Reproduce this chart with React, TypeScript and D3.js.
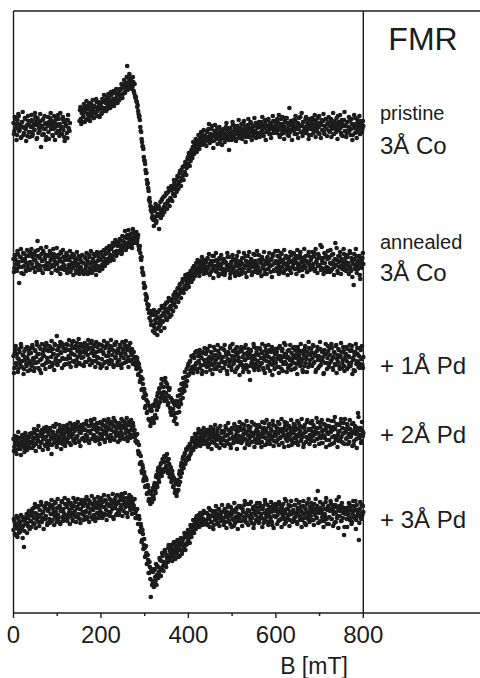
import React from "react";
import * as d3 from "d3";

// Field sweep (mT): even samples 0,2,...,800 and odd samples 1,3,...,799
const fieldEven = d3.range(0, 801, 2);
const fieldOdd = d3.range(1, 800, 2);

const majorTicks = [0, 200, 400, 600, 800];
const minorTicks = [100, 300, 500, 700];

// vertical offsets of each spectrum (arb. units)
const offsets = [485, 348, 253, 178, 98];

const N = null;
// dP/dB signal (arb. units) at even fields
const pristineEven = [
  5,-3,9,0,-7,4,12,-2,3,-9,6,1,-5,10,-1,2,-8,7,3,-4,
  1,8,-6,4,-2,11,3,-10,6,0,-3,7,2,-7,9,-1,4,-12,5,2,
  -4,6,10,-1,3,-8,5,0,8,-5,2,13,-3,4,-6,1,9,-2,-9,6,
  3,-5,8,0,-3,N,N,N,N,N,N,N,N,N,N,N,18,9,15,6,
  12,20,16,8,22,14,19,11,17,24,13,18,10,21,15,26,17,12,23,19,
  22,15,26,19,28,20,17,27,23,30,21,26,33,24,29,22,35,27,31,25,
  35,28,38,31,40,34,42,36,45,39,62,40,49,42,50,44,41,46,35,32,
  31,26,23,14,12,1,-4,-14,-19,-29,-33,-42,-45,-56,-60,-72,-74,-82,-84,-88,
  -92,-80,-89,-95,-81,-88,-78,-86,-74,-84,-71,-82,-79,-68,-77,-66,-75,-64,-72,-62,
  -71,-62,-59,-66,-55,-61,-52,-60,-49,-56,-45,-53,-42,-49,-47,-38,-44,-35,-40,-31,
  -36,-27,-31,-24,-28,-19,-25,-17,-22,-15,-20,-12,-18,-8,-15,-11,-6,-14,-9,-13,
  -12,-4,-9,-1,-14,-6,-10,2,-8,-13,-3,-7,-11,0,-5,-9,-15,-2,-6,-10,
  -3,-10,-6,1,-8,-2,-12,-5,0,-9,-4,3,-7,-1,-11,-3,2,-6,-8,-2,
  0,-7,-3,4,-5,1,-9,-2,3,-6,0,6,-4,-1,-8,2,-3,5,-5,0,
  2,-5,1,6,-3,3,-8,0,5,-4,2,8,-2,1,-6,4,-1,7,-3,1,
  3,-4,6,0,-7,2,9,-2,4,-5,1,10,-3,5,-1,-8,3,7,-2,0,
  4,-2,8,1,-6,5,-1,3,11,-4,2,6,-3,0,9,-5,4,1,-7,3,
  -1,6,2,-5,8,0,4,-3,10,1,-6,5,3,-2,7,-4,2,9,-1,4,
  5,-3,2,9,-1,4,-6,7,1,-4,3,12,-2,6,0,-7,4,2,8,-3,
  2,-5,6,1,-3,8,-1,4,-7,3,0,10,-4,5,-2,2,-6,7,1,-1,
  2,
];
const pristineOdd = [
  -6,11,4,-12,8,14,-3,1,-10,6,16,-7,0,9,-13,3,12,-4,-9,7,
  13,-8,2,-2,15,7,-11,10,-5,4,14,-19,1,8,-6,12,-1,-9,5,11,
  -11,3,15,7,-7,-1,12,-12,4,10,-3,9,-8,15,0,-6,11,6,-13,2,
  8,-10,13,-2,5,N,N,N,N,N,N,N,N,N,N,7,21,4,19,11,
  24,6,18,27,9,13,25,7,21,14,28,10,22,16,29,12,20,26,11,24,
  14,29,20,33,17,25,31,19,34,24,20,36,27,22,37,29,25,39,28,34,
  28,39,33,44,30,41,48,35,43,51,38,46,54,41,48,39,51,37,44,30,
  27,21,17,11,8,-3,-11,-18,-21,-32,-36,-45,-52,-55,-63,-70,-78,-79,-90,-83,
  -98,-83,-76,-93,-86,-79,-101,-81,-90,-72,-87,-69,-84,-76,-65,-81,-73,-60,-78,-70,
  -58,-73,-66,-52,-68,-57,-64,-48,-61,-54,-43,-58,-50,-39,-52,-45,-34,-47,-38,-29,
  -25,-38,-33,-22,-30,-14,-26,-20,-11,-24,-16,-7,-21,-13,-4,-17,-10,-2,-16,-8,
  -18,-3,-11,4,-15,-8,-1,-13,-20,-6,3,-10,-4,-16,-9,1,-12,-5,-17,-2,
  -1,-14,-8,5,-11,-3,-22,0,-7,-12,6,-5,-9,2,-13,-2,-6,8,-10,-4,
  4,-11,-2,7,-8,-14,1,-5,9,-9,-1,5,-12,2,-6,10,-3,-10,3,-7,
  6,-9,3,-4,11,-7,0,8,-12,2,-3,9,-6,5,-10,1,12,-5,-1,7,
  -5,9,-2,13,-9,4,-6,11,1,-11,7,-3,10,-7,3,20,-4,6,-12,2,
  8,-6,12,-1,5,-10,10,2,-4,15,-8,6,1,-5,11,-2,7,-11,9,3,
  -7,10,3,-3,13,-9,6,0,-5,12,4,-10,8,-2,14,-6,2,9,-8,5,
  11,-4,7,-9,1,15,-6,4,-1,10,-11,6,2,13,-5,8,-8,3,16,-3,
  -9,6,-3,11,0,-7,9,-12,4,13,-5,2,-10,8,-1,12,-6,5,-4,7,
];

const annealedEven = [
  6,-3,9,1,-6,11,3,-2,8,-8,4,12,-1,6,-5,9,2,-4,13,3,
  10,1,8,-3,12,5,-2,9,15,0,7,-5,11,4,14,-1,6,10,2,-4,
  9,2,12,-2,7,0,11,4,-5,8,1,10,-3,6,13,-4,3,8,-1,5,
  6,-4,9,0,5,-7,8,2,-3,10,-1,4,-8,6,1,-5,7,-2,3,-6,
  2,-6,7,-1,5,-9,3,8,-4,1,-7,6,-2,9,0,-5,4,10,-3,5,
  6,0,9,3,1,11,4,12,6,15,8,10,17,7,19,13,11,21,14,19,
  22,14,25,17,13,24,19,28,16,21,30,18,26,23,31,20,27,33,24,29,
  29,22,27,19,16,12,5,-3,-8,-18,-21,-29,-31,-39,-41,-48,-47,-56,-50,-60,
  -50,-62,-55,-47,-64,-53,-58,-45,-60,-51,-43,-56,-49,-40,-52,-46,-37,-48,-43,-35,
  -44,-36,-40,-30,-38,-27,-34,-31,-23,-29,-20,-27,-24,-17,-25,-15,-22,-12,-19,-14,
  -18,-10,-14,-7,-12,-3,-9,-1,-6,2,-4,3,-2,-7,4,-3,1,-6,5,-1,
  3,-5,7,-2,1,-8,4,0,-4,9,-1,-6,5,-3,2,-9,6,-2,1,-5,
  -4,4,-7,2,-1,8,-5,0,-9,3,-3,6,-2,-8,1,5,-6,2,-10,0,
  3,-6,1,7,-3,-8,4,0,9,-4,2,-1,6,-7,3,-2,10,-5,1,-3,
  -2,5,-6,2,8,-3,0,-9,4,1,7,-4,3,-1,-7,6,0,11,-5,2,
  4,-3,9,0,-6,3,12,-2,5,-8,1,7,-4,2,-1,8,-5,3,10,-2,
  1,6,-4,9,2,-3,7,-1,13,3,-5,5,0,8,-2,4,-7,10,2,-1,
  5,-2,8,1,12,-4,3,6,-1,9,0,20,-3,4,7,-5,2,10,-2,6,
  -3,7,2,-6,10,1,4,-2,22,0,5,-8,3,9,-1,6,-4,2,11,-1,
  3,-5,8,0,-2,12,-6,4,1,-20,6,-1,9,2,-4,5,-10,3,0,7,
  1,
];
const annealedOdd = [
  -7,10,5,-4,14,0,-18,8,16,-2,6,-9,11,3,-6,15,-1,9,-5,12,
  16,-3,11,5,-7,14,2,24,-5,9,-1,17,4,-8,12,7,-4,18,0,10,
  -4,14,5,-8,11,16,-1,8,2,17,-6,10,4,-9,12,-2,15,0,-5,9,
  12,-8,5,-2,14,-5,1,11,-10,7,3,-6,13,-3,9,-9,5,-4,10,-7,
  -9,8,-4,12,1,-7,10,-3,14,-8,4,11,-5,2,-10,13,-1,7,-6,12,
  13,-4,8,15,-1,6,17,2,13,19,4,16,9,22,5,20,25,9,23,12,
  13,26,20,11,29,17,23,34,15,27,22,35,19,30,25,17,36,22,32,26,
  33,24,30,15,19,7,8,-7,-10,-23,-22,-35,-33,-44,-40,-53,-46,-60,-49,-66,
  -45,-68,-58,-51,-70,-47,-62,-55,-66,-41,-57,-48,-63,-44,-38,-55,-47,-33,-52,-41,
  -50,-34,-46,-39,-28,-42,-33,-24,-37,-29,-19,-33,-26,-14,-28,-21,-10,-24,-17,-9,
  -22,-12,-6,-17,-9,-14,-1,-11,-4,-8,5,-5,-11,1,-6,8,-4,-9,3,-2,
  -8,6,-3,11,-10,2,-6,9,-13,4,-1,12,-7,0,-11,7,-4,10,-9,3,
  6,-10,3,-5,12,-2,8,-13,1,-7,10,-4,5,-11,-1,9,-8,13,-3,4,
  -9,7,-4,12,-1,9,-12,3,-6,13,-3,6,-10,1,11,-7,4,-2,14,-8,
  10,-7,3,-11,6,-2,13,-5,1,-9,8,-4,12,-1,5,-12,9,-6,2,14,
  -6,3,14,-9,7,-3,11,-7,2,15,-5,9,-1,-10,6,-4,13,-8,4,-2,
  12,-4,5,-9,15,0,-6,10,-2,7,-11,4,16,-3,9,-7,2,13,-5,8,
  -4,13,0,9,-6,16,3,-8,11,-1,7,-5,18,2,-9,12,-3,8,-7,14,
  8,-7,15,1,-4,11,-10,6,0,17,-6,9,-2,13,-9,4,-1,16,-5,7,
  -6,10,2,-9,14,-3,7,-12,5,11,-4,16,-8,3,-1,9,-14,6,-3,12,
];

const pd1Even = [
  4,-8,10,-3,6,-12,1,8,-5,13,-1,5,-9,3,11,-6,2,-3,9,-10,
  7,-4,12,0,-8,9,3,15,-2,6,-10,11,1,-5,8,4,14,-3,10,-1,
  9,-2,13,3,-6,11,6,16,0,-4,10,5,14,-1,8,17,2,12,-5,9,
  11,1,15,4,-3,10,7,18,-1,12,5,14,0,9,-4,13,6,16,2,8,
  3,12,-2,9,15,5,11,0,17,7,-3,10,4,14,-1,8,13,2,9,-4,
  10,1,14,6,-3,12,4,16,-1,8,11,0,13,5,-5,9,15,3,7,-2,
  9,0,13,4,-4,11,2,15,6,-2,10,3,14,-1,8,5,7,-3,2,-2,
  3,-7,-2,-14,-8,-20,-17,-29,-24,-38,-33,-46,-40,-52,-45,-60,-50,-62,-51,-58,
  -60,-46,-55,-40,-50,-33,-44,-28,-38,-24,-35,-20,-32,-37,-22,-40,-27,-43,-30,-48,
  -38,-51,-42,-55,-44,-58,-41,-53,-36,-47,-30,-40,-24,-33,-18,-27,-12,-22,-9,-16,
  -4,-14,-1,-10,3,-8,5,-6,8,-3,-9,4,-2,10,-5,2,-11,7,0,-4,
  6,-7,11,-2,3,-10,8,1,-5,13,-3,5,-9,2,9,-6,4,12,-1,-8,
  3,10,-4,7,-11,1,6,-2,14,-7,4,9,-3,0,11,-9,5,-1,8,-5,
  -2,9,3,-8,12,0,-5,7,2,-12,6,10,-3,4,-7,13,1,-4,8,-1,
  5,-6,11,2,-3,8,-10,4,14,-1,7,-8,3,10,-4,1,-15,9,-2,6,
  -3,8,1,12,-7,4,-1,9,-11,3,6,15,-4,2,-8,10,0,-5,7,-2,
  4,-9,10,2,-4,13,-1,6,-6,9,1,-12,5,11,-3,3,8,-7,12,0,
  -5,7,2,14,-2,5,-10,9,0,4,-6,11,-1,8,3,-13,6,16,-3,2,
  9,-4,5,-1,12,-8,3,7,-5,15,1,-2,10,-9,4,8,-3,13,-6,2,
  6,-1,11,-7,3,9,-3,14,0,-10,5,8,-4,12,-2,4,-8,10,1,-5,
  3,
];
const pd1Odd = [
  -13,7,14,-5,2,-9,11,-2,16,-7,5,-14,9,0,-4,13,-11,6,-1,12,
  -6,15,2,-11,10,-3,18,6,-8,13,0,-13,16,5,-5,11,-9,17,2,-2,
  14,-7,9,19,-3,6,-10,15,2,24,-5,12,-1,18,7,-8,15,1,11,-4,
  16,-4,10,20,2,-7,14,6,19,-2,12,-6,17,3,21,-3,9,15,-5,13,
  -6,17,7,-2,14,20,1,-5,12,19,-1,15,6,-7,18,3,-3,16,9,-8,
  15,-6,8,19,-2,13,-8,17,4,-4,14,20,-1,10,-7,16,2,18,-5,11,
  -5,15,6,-8,18,8,-3,12,19,-1,14,-7,10,17,0,11,-4,8,3,-5,
  -9,2,-15,-4,-22,-11,-30,-19,-37,-29,-48,-35,-53,-42,-59,-46,-66,-49,-62,-45,
  -63,-44,-41,-58,-36,-47,-29,-42,-33,-19,-38,-27,-41,-18,-33,-24,-45,-36,-28,-52,
  -55,-40,-49,-61,-45,-53,-64,-46,-42,-52,-35,-44,-29,-38,-23,-31,-17,-26,-21,-6,
  -15,-2,-11,4,-7,-13,2,-9,-4,9,-12,-1,6,-8,3,-14,8,-5,12,-3,
  -12,9,1,-6,14,-3,7,-14,4,-9,10,0,-7,15,-4,6,-11,2,-2,11,
  -8,15,-2,5,-14,8,-6,12,0,-10,16,-4,3,-12,7,13,-7,2,-15,10,
  13,-5,-12,6,0,15,-9,3,11,-6,-20,9,1,-3,16,-10,5,12,-7,-1,
  -10,12,-4,7,16,-8,1,-13,10,4,-6,15,-2,-11,8,13,-5,2,-9,11,
  9,-7,4,-13,14,1,-9,11,-4,17,-2,6,-12,9,3,-6,15,-10,1,12,
  -3,13,-8,6,-14,10,3,-5,16,-2,-10,8,-6,14,1,-12,7,18,-4,5,
  11,-6,15,-3,7,-12,4,13,-8,2,18,-5,9,-1,-14,10,-3,6,-9,14,
  -7,12,-2,16,1,-10,8,-4,14,-13,5,11,-6,3,17,-8,0,9,-11,6,
  13,-9,4,-3,15,-6,10,-14,2,8,-11,16,-1,6,-7,12,-4,1,14,-8,
];

const pd2Even = [
  -4,-12,-6,-15,-2,-9,-11,-3,-14,-7,0,-10,-5,-13,-1,-8,-4,-11,-2,-7,
  -8,1,-6,-11,2,-3,-9,5,-5,-1,-12,3,-7,0,-4,7,-10,-2,4,-6,
  1,-7,5,-4,-10,3,-1,8,-6,0,-9,4,-3,6,-8,2,-5,9,-2,-11,
  3,-5,7,0,-8,5,-2,9,1,-6,4,-3,10,-1,6,-7,8,2,-4,5,
  7,-3,5,11,-1,4,-6,9,2,13,-4,6,0,10,-2,8,3,-5,12,1,
  6,-2,10,4,-5,8,1,13,-3,7,11,0,5,-4,9,3,14,-1,6,2,
  8,-1,11,3,9,-3,7,13,2,6,-2,10,4,12,0,8,5,9,1,-2,
  0,-8,-7,-19,-18,-28,-27,-38,-33,-44,-41,-51,-45,-58,-52,-64,-57,-66,-56,-63,
  -61,-50,-55,-42,-49,-36,-44,-32,-38,-28,-35,-25,-34,-27,-22,-33,-26,-36,-29,-39,
  -33,-44,-40,-51,-45,-55,-49,-57,-46,-50,-36,-42,-28,-34,-22,-29,-18,-26,-15,-23,
  -13,-21,-10,-17,-6,-14,-4,-11,-8,-1,-9,2,-6,-3,1,-8,-2,3,-5,0,
  2,-6,5,-3,-9,1,4,-7,-1,6,-4,0,-10,3,-2,7,-5,-8,2,-3,
  -5,3,-1,7,-8,0,5,-4,-10,2,6,-2,-6,9,-3,1,-7,4,-1,8,
  -2,5,-6,1,10,-4,3,-9,0,6,-3,8,-7,2,-1,11,-5,4,-8,1,
  3,-4,8,-1,-7,5,1,12,-3,6,-9,2,9,-5,0,4,-2,10,-6,3,
  -1,7,-5,2,11,-3,4,-8,6,0,13,-2,5,-6,1,9,-4,3,-10,7,
  2,-3,9,0,-7,6,12,-1,4,-5,8,1,-9,10,3,-2,15,-4,5,0,
  6,-2,3,10,-6,1,7,-4,13,2,-1,8,-8,4,0,11,-3,6,-5,9,
  1,-5,8,3,-9,5,14,-1,6,-3,10,0,-6,4,12,-2,7,-8,2,16,
  4,-3,9,1,-7,6,-1,11,2,-10,5,8,-4,3,22,-2,0,7,-6,4,
  2,
];
const pd2Odd = [
  -16,-1,-10,-19,-5,3,-14,-8,-20,-2,-11,-6,-17,2,-9,-15,-4,-12,1,-13,
  2,-13,-3,6,-9,-16,0,-6,9,-12,-1,-8,5,-15,3,-4,-11,8,-7,-14,
  -10,7,-2,-19,2,9,-8,-4,11,-12,3,-6,10,-1,-14,5,-9,1,7,-5,
  -7,10,-3,4,12,-10,1,6,-5,11,-8,8,-2,13,-6,3,-11,10,5,-3,
  11,-6,0,14,-3,9,-8,4,15,-4,10,-1,16,-6,5,12,-3,7,-9,13,
  -4,11,1,15,-7,9,4,-2,16,6,-6,13,-3,10,17,-5,8,0,12,-7,
  12,-5,7,16,0,14,-4,10,6,17,-6,13,2,-3,15,6,12,-2,5,-6,
  -6,1,-16,-10,-29,-21,-36,-30,-46,-37,-52,-43,-59,-50,-66,-56,-69,-59,-67,-53,
  -64,-48,-58,-40,-52,-33,-47,-40,-29,-41,-24,-37,-21,-35,-31,-19,-38,-24,-42,-32,
  -47,-36,-52,-43,-58,-48,-61,-45,-55,-39,-47,-31,-38,-24,-33,-20,-29,-14,-25,-12,
  -24,-9,-19,-13,-3,-15,-7,1,-12,-4,-10,6,-7,-11,4,-4,-9,7,-1,-6,
  -9,5,-12,1,-4,8,-14,-2,3,-8,10,-5,-11,6,-1,-13,9,-3,4,-10,
  4,-11,9,-6,0,12,-9,3,-13,7,-3,-8,11,-1,5,-14,8,-5,13,-7,
  -8,11,-3,6,-13,2,14,-6,9,-10,4,-1,13,-7,1,-12,10,-4,7,-2,
  10,-8,1,-12,13,-2,7,-10,4,15,-6,-1,11,-9,6,-4,14,-11,0,9,
  -7,4,13,-10,6,-2,16,-8,2,-12,9,-4,12,-1,-11,7,0,15,-6,3,
  11,-8,5,-3,14,-10,1,9,-6,16,-2,-12,7,3,-7,13,-4,6,-9,12,
  -6,14,-1,8,-11,4,17,-4,7,-9,12,-3,15,-8,5,-1,10,-12,3,15,
  9,-10,4,14,-2,8,-8,18,-5,11,-12,3,10,-4,16,-7,1,12,-9,6,
  -4,11,-9,6,15,-2,3,-11,12,-6,9,1,-13,7,18,-3,5,-8,13,-1,
];

const pd3Even = [
  -15,-6,-20,-9,-13,-3,-18,-10,-7,-14,-2,-11,-32,-5,-9,1,-8,-3,-12,0,
  -6,3,-1,7,-9,2,-4,8,-2,-7,5,0,10,-5,3,-3,9,-1,6,-8,
  5,-4,8,1,-6,10,3,-1,12,-3,7,0,-7,9,4,13,-2,6,-5,11,
  0,8,-3,12,5,-1,10,2,-6,9,4,14,-2,7,1,11,-4,6,13,3,
  9,-1,12,4,-4,8,15,2,6,-2,11,5,0,13,-3,7,10,1,14,4,
  10,2,13,-1,8,15,5,11,0,9,16,3,12,6,-2,14,7,10,1,13,
  12,3,15,6,10,18,4,13,8,11,2,16,9,14,5,12,7,10,6,2,
  4,-3,-1,-9,-4,-17,-12,-25,-19,-30,-33,-41,-38,-49,-45,-58,-52,-82,-56,-66,
  -68,-55,-62,-49,-60,-52,-57,-43,-55,-46,-38,-51,-47,-35,-49,-40,-44,-33,-42,-36,
  -42,-33,-40,-29,-37,-44,-31,-38,-27,-35,-41,-30,-26,-36,-24,-33,-21,-30,-19,-27,
  -25,-17,-21,-12,-18,-10,-14,-6,-12,-3,-9,-5,0,-8,-2,-6,1,-4,-7,2,
  -6,2,-9,0,-4,5,-7,-1,3,-10,-2,4,-5,1,-8,6,-3,0,-6,3,
  -3,4,-7,1,-1,8,-5,2,-9,0,5,-4,-11,3,-2,7,-6,1,-3,9,
  0,-6,6,-2,10,-4,2,-8,5,-1,11,-5,1,-3,8,-9,4,0,-6,7,
  3,-5,9,1,-3,6,-8,2,12,-2,5,-7,0,8,-4,3,-10,10,-1,4,
  -2,6,0,-6,11,3,-4,8,-1,5,-9,2,14,-3,6,0,-5,9,1,-7,
  5,-3,10,2,-7,7,0,13,-2,4,-5,9,1,-8,6,3,12,-4,2,8,
  -1,8,3,-5,11,0,6,-3,24,2,-7,7,4,-2,10,-6,1,13,-4,5,
  9,-2,4,12,-4,6,1,-8,10,3,-3,7,18,-1,5,-6,8,2,-20,4,
  2,-4,7,0,11,-3,5,-7,3,9,-1,14,-5,4,1,-25,6,-2,10,0,
  3,
];
const pd3Odd = [
  -4,-19,-11,-1,-22,-14,-6,-17,0,-13,-23,-5,-16,-8,-2,-18,-11,4,-14,-6,
  -12,6,-8,-3,11,-13,1,-6,9,-11,-2,13,-7,2,-14,7,-4,12,-10,4,
  11,-8,1,15,-5,6,-10,13,3,-7,16,-3,9,-9,5,14,-6,2,17,-4,
  10,-6,15,2,-9,12,7,-4,17,0,13,-7,8,16,-3,6,-8,15,1,10,
  -5,15,3,18,-2,10,-7,13,6,19,-4,9,16,-6,12,2,18,-3,8,-1,
  17,-3,8,20,1,14,-5,11,19,3,-1,15,8,21,-4,12,17,0,20,5,
  0,19,8,21,-1,15,11,22,2,17,-2,13,20,6,18,1,14,9,16,-3,
  -3,6,-9,-1,-16,-9,-27,-15,-34,-24,-42,-31,-49,-40,-58,-47,-64,-54,-70,-57,
  -72,-54,-66,-70,-51,-63,-59,-45,-61,-53,-41,-56,-50,-37,-52,-43,-47,-30,-45,-39,
  -30,-46,-36,-27,-43,-34,-39,-25,-42,-31,-35,-23,-39,-28,-32,-18,-35,-22,-29,-15,
  -20,-28,-10,-22,-15,-5,-18,-9,-14,-1,-11,-6,-12,2,-8,-3,-10,4,-5,-8,
  2,-10,-3,7,-12,-1,-7,4,-14,1,-5,9,-9,-2,6,-11,3,-6,10,-4,
  -10,6,-2,-13,3,10,-7,-1,8,-12,2,-5,12,-8,5,-3,-14,9,0,-6,
  7,-11,3,-4,14,-7,0,11,-10,4,-2,13,-8,6,-13,2,9,-5,12,-3,
  -8,12,-1,6,-12,9,-4,15,-6,1,10,-10,4,-2,13,-7,7,-13,5,11,
  9,-9,3,13,-5,7,-12,1,11,-4,16,-7,6,-1,10,-11,3,14,-6,2,
  -6,10,-2,15,-9,4,12,-5,8,-12,2,14,-3,7,-10,11,-1,16,-7,5,
  12,-5,7,-10,3,16,-3,9,-8,5,13,-6,2,11,-12,6,-2,17,-9,8,
  -9,6,14,-4,10,-11,3,8,-7,15,-1,-13,9,4,-6,12,-3,7,-12,1,
  7,-12,3,12,-5,9,-9,1,14,-3,6,-14,10,-1,5,-8,13,-4,2,9,
];

const spectraEven = [pristineEven, annealedEven, pd1Even, pd2Even, pd3Even];
const spectraOdd = [pristineOdd, annealedOdd, pd1Odd, pd2Odd, pd3Odd];

const labelLines = [
  { text: "FMR", size: 32, x: 423, y: 50, anchor: "middle" },
  { text: "pristine", size: 20, x: 380, y: 120, anchor: "start" },
  { text: "3Å Co", size: 24, x: 380, y: 154, anchor: "start" },
  { text: "annealed", size: 20, x: 380, y: 249, anchor: "start" },
  { text: "3Å Co", size: 24, x: 380, y: 281, anchor: "start" },
  { text: "+ 1Å Pd", size: 24, x: 380, y: 374, anchor: "start" },
  { text: "+ 2Å Pd", size: 24, x: 380, y: 443, anchor: "start" },
  { text: "+ 3Å Pd", size: 24, x: 380, y: 528, anchor: "start" },
];

const W = 480;
const H = 678;
const left = 13.5;
const top = 11;
const bottom = 613;
const sep = 363.3;
const ink = "#1c1c1c";
const font = "'Liberation Sans', Arial, Helvetica, sans-serif";

export default function App() {
  const x = d3.scaleLinear().domain([0, 800]).range([left, sep]);
  const y = d3.scaleLinear().domain([0, bottom - top]).range([bottom, top]);

  const dots: { cx: number; cy: number; k: string }[] = [];
  const addSet = (sets: (number | null)[][], fields: number[], tag: string) => {
    sets.forEach((arr, si) => {
      arr.forEach((v, i) => {
        if (v === null || v === undefined || i >= fields.length) return;
        dots.push({ cx: x(fields[i]), cy: y(offsets[si] + v), k: `${tag}${si}-${i}` });
      });
    });
  };
  addSet(spectraEven, fieldEven, "e");
  addSet(spectraOdd, fieldOdd, "o");

  return (
    <svg
      width={W}
      height={H}
      style={{ position: "fixed", left: 0, top: 0, background: "#fff" }}
      fontFamily={font}
    >
      <rect x={0} y={0} width={W} height={H} fill="#fff" />
      <g fill={ink}>
        {dots.map((d) => (
          <circle key={d.k} cx={d.cx} cy={d.cy} r={2.35} />
        ))}
      </g>
      <g stroke={ink} strokeWidth={1.4} fill="none">
        <line x1={left} x2={W} y1={top} y2={top} />
        <line x1={left} x2={W} y1={bottom} y2={bottom} />
        <line x1={left} x2={left} y1={top} y2={bottom} />
        <line x1={sep} x2={sep} y1={top} y2={bottom} />
        {majorTicks.map((t) => (
          <line key={"M" + t} x1={x(t)} x2={x(t)} y1={bottom} y2={bottom + 5} />
        ))}
        {minorTicks.map((t) => (
          <line key={"m" + t} x1={x(t)} x2={x(t)} y1={bottom} y2={bottom + 3} />
        ))}
      </g>
      <g fill={ink} fontSize={24} textAnchor="middle">
        {majorTicks.map((t) => (
          <text key={"t" + t} x={x(t)} y={643}>
            {t}
          </text>
        ))}
        <text x={314} y={674} fontSize={23}>
          B [mT]
        </text>
      </g>
      <g fill={ink}>
        {labelLines.map((l, i) => (
          <text key={i} x={l.x} y={l.y} fontSize={l.size} textAnchor={l.anchor as any}>
            {l.text}
          </text>
        ))}
      </g>
    </svg>
  );
}
